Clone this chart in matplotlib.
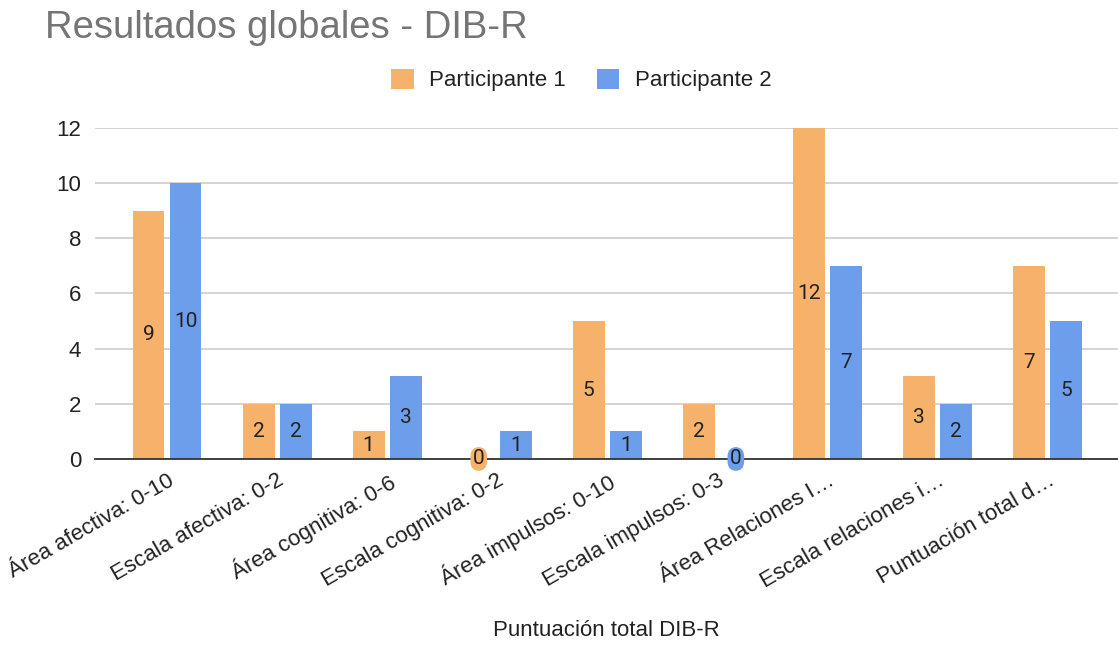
import matplotlib.pyplot as plt
import numpy as np

plt.rcParams["font.family"] = ["Liberation Sans", "DejaVu Sans"]

categories = ["Área afectiva: 0-10", "Escala afectiva: 0-2", "Área cognitiva: 0-6",
              "Escala cognitiva: 0-2", "Área impulsos: 0-10", "Escala impulsos: 0-3",
              "Área Relaciones I…", "Escala relaciones i…", "Puntuación total d…"]
participante_1 = [9, 2, 1, 0, 5, 2, 12, 3, 7]
participante_2 = [10, 2, 3, 1, 1, 0, 7, 2, 5]
series = [("Participante 1", participante_1, "#f6b26b"),
          ("Participante 2", participante_2, "#6d9eeb")]

fig = plt.figure(figsize=(11.18, 6.45), dpi=100)
ax = fig.add_axes([0.085, 0.2884, 0.915, 0.5132])

x = np.arange(len(categories))
width = 0.29
offsets = [-0.168, 0.168]

for (name, vals, color), off in zip(series, offsets):
    ax.bar(x + off, vals, width, color=color, label=name, zorder=3)
    for xi, v in zip(x + off, vals):
        if v == 0:
            ax.text(xi, 0, "0", ha="center", va="center", fontsize=15, color="#222222", zorder=5,
                    family=["Roboto", "DejaVu Sans"],
                    bbox=dict(boxstyle="round,pad=0.12,rounding_size=0.45", fc=color, ec="none"))
        else:
            ax.text(xi, v / 2, str(v), ha="center", va="center", fontsize=15, color="#222222",
                    zorder=4, family=["Roboto", "DejaVu Sans"])

ax.set_xlim(-0.654, 8.64)
ax.set_ylim(0, 12)
ax.set_yticks(range(0, 13, 2))
ax.set_xticks(x)
ax.set_xticklabels(categories, rotation=30, ha="right", va="top", rotation_mode="anchor",
                   fontsize=16, color="#222222")
ax.tick_params(axis="y", labelsize=16, labelcolor="#222222", length=0, pad=10)
ax.tick_params(axis="x", length=0, pad=8)
ax.grid(axis="y", color="#cccccc", linewidth=1.2, zorder=0)
for s in ["left", "right", "top"]:
    ax.spines[s].set_visible(False)
ax.spines["bottom"].set_color("#333333")
ax.spines["bottom"].set_linewidth(1.3)
ax.spines["bottom"].set_zorder(4)

ax.set_xlabel("Puntuación total DIB-R", fontsize=16, color="#222222", labelpad=20)

fig.text(0.04, 0.957, "Resultados globales - DIB-R", fontsize=27.5, color="#757575", va="center")
fig.legend(loc="center", bbox_to_anchor=(0.52, 0.876), ncol=2, frameon=False, fontsize=16,
           handlelength=1.0, handleheight=1.0, columnspacing=1.4, handletextpad=0.7,
           labelcolor="#222222")

fig.savefig("out.png", dpi=100)
